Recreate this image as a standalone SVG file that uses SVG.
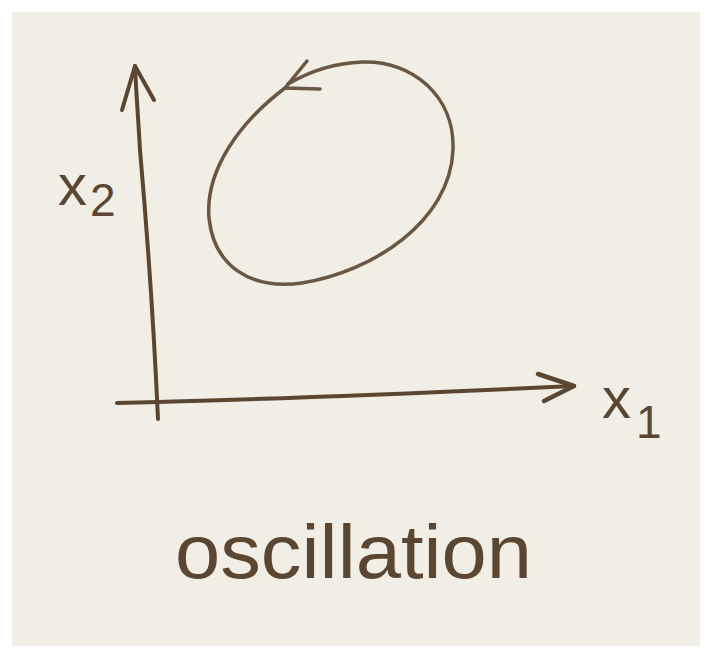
<svg xmlns="http://www.w3.org/2000/svg" width="711" height="658" viewBox="0 0 711 658">
<style>
.ink{fill:none;stroke:#5b4632;stroke-linecap:round;stroke-linejoin:round}
.pencil{fill:none;stroke:#6a5743;stroke-linecap:round;stroke-linejoin:round}
.lbl{font-family:"Liberation Sans","DejaVu Sans",sans-serif;fill:#5b4632}
</style>
<rect x="0" y="0" width="711" height="658" fill="#ffffff"/>
<rect x="12" y="12" width="688" height="634" fill="#f1eee5"/>
<g id="connectors">
<g id="axis-x2">
<path class="ink" stroke-width="4" d="M158,419 C154,330 147,230 140,150 C138,115 136,90 135,66"/>
<path class="ink" stroke-width="4" d="M122,110 L135,66 L154,100"/>
</g>
<g id="axis-x1">
<path class="ink" stroke-width="4" d="M117,403 C250,400 400,394 574,386"/>
<path class="ink" stroke-width="4.5" d="M538,374 L574,386 L544,401"/>
</g>
<g id="orbit">
<path class="pencil" stroke-width="3.5" d="M285,88 C240,122 205,170 209,218 C214,266 250,290 302,283 C372,272 450,222 453,150 C455,96 412,60 362,62 C335,63 312,70 288,84"/>
<path class="pencil" stroke-width="3.5" d="M307,61 L285,88 L320,89"/>
</g>
</g>
<g id="label-x2">
<text class="lbl" x="58" y="205" font-size="58">x</text>
<text class="lbl" x="90" y="216" font-size="46">2</text>
</g>
<g id="label-x1">
<text class="lbl" x="602" y="418" font-size="58">x</text>
<text class="lbl" x="636" y="438" font-size="46">1</text>
</g>
<g id="caption">
<text class="lbl" x="175" y="578" font-size="76" textLength="357" lengthAdjust="spacingAndGlyphs">oscillation</text>
</g>
</svg>
